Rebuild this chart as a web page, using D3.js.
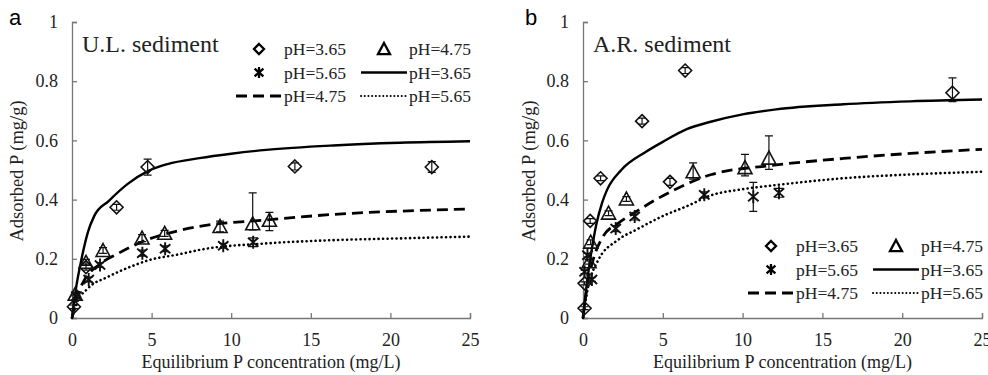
<!DOCTYPE html>
<html>
<head>
<meta charset="utf-8">
<script src="https://cdn.jsdelivr.net/npm/d3@7"></script>
<style>
  body { margin: 0; background: #fff; }
</style>
</head>
<body>
<svg id="chart" width="988" height="375"></svg>
<script>
// ---- data ----
var xTicks = [0, 5, 10, 15, 20, 25];
var yTicks = [0, 0.2, 0.4, 0.6, 0.8, 1];
var legendLabels = ["pH=3.65", "pH=4.75", "pH=5.65"];

// panel a : U.L. sediment
var aDiamondX = [0.12, 0.88, 2.8, 4.75, 14.0, 22.6];
var aDiamondY = [0.038, 0.172, 0.374, 0.51, 0.512, 0.51];
var aDiamondUp = [0.006, 0.01, 0.01, 0.027, 0.012, 0.018];
var aDiamondDn = [0.006, 0.01, 0.01, 0.027, 0.012, 0.018];

var aTriX = [0.2, 0.88, 1.95, 4.4, 5.82, 9.3, 11.35, 12.4];
var aTriY = [0.08, 0.188, 0.228, 0.27, 0.286, 0.309, 0.318, 0.33];
var aTriUp = [0.005, 0.01, 0.01, 0.012, 0.01, 0.018, 0.105, 0.027];
var aTriDn = [0.005, 0.01, 0.01, 0.012, 0.01, 0.018, 0.02, 0.035];

var aStarX = [0.28, 1.05, 1.76, 4.42, 5.85, 9.5, 11.38];
var aStarY = [0.074, 0.13, 0.179, 0.219, 0.234, 0.244, 0.256];
var aStarUp = [0.005, 0.008, 0.008, 0.01, 0.01, 0.008, 0.015];
var aStarDn = [0.005, 0.008, 0.008, 0.01, 0.01, 0.008, 0.015];

var aFit365X = [0, 0.25, 0.6, 1.0, 1.4, 2.3, 3.5, 4.8, 6.0, 8.0, 10.0, 12.2, 16.4, 20.6, 25];
var aFit365Y = [0, 0.1, 0.2, 0.29, 0.345, 0.395, 0.453, 0.497, 0.52, 0.54, 0.555, 0.568, 0.583, 0.592, 0.597];
var aFit475X = [0, 0.3, 0.8, 1.7, 2.9, 4.6, 6.7, 8.3, 12.2, 16.4, 20.6, 25];
var aFit475Y = [0, 0.07, 0.13, 0.18, 0.218, 0.262, 0.295, 0.312, 0.331, 0.35, 0.361, 0.368];
var aFit565X = [0, 0.3, 1.0, 2.3, 3.9, 4.8, 6.7, 8.2, 12.2, 16.4, 20.6, 25];
var aFit565Y = [0, 0.05, 0.1, 0.14, 0.178, 0.195, 0.215, 0.232, 0.252, 0.263, 0.269, 0.275];

// panel b : A.R. sediment
var bDiamondX = [0.1, 0.1, 0.45, 1.1, 3.7, 5.45, 6.4, 23.15];
var bDiamondY = [0.033, 0.117, 0.328, 0.472, 0.665, 0.46, 0.836, 0.761];
var bDiamondUp = [0.005, 0.005, 0.008, 0.008, 0.01, 0.012, 0.01, 0.05];
var bDiamondDn = [0.005, 0.005, 0.008, 0.008, 0.01, 0.012, 0.01, 0.03];

var bTriX = [0.38, 0.48, 1.6, 2.72, 6.9, 10.15, 11.65];
var bTriY = [0.19, 0.256, 0.354, 0.402, 0.494, 0.508, 0.54];
var bTriUp = [0.008, 0.008, 0.008, 0.008, 0.03, 0.045, 0.075];
var bTriDn = [0.008, 0.008, 0.008, 0.008, 0.025, 0.028, 0.038];

var bStarX = [0.1, 0.28, 0.56, 2.05, 3.24, 7.6, 10.67, 12.28];
var bStarY = [0.156, 0.212, 0.13, 0.302, 0.343, 0.416, 0.41, 0.423];
var bStarUp = [0.006, 0.006, 0.006, 0.01, 0.012, 0.01, 0.048, 0.015];
var bStarDn = [0.006, 0.006, 0.006, 0.01, 0.012, 0.01, 0.05, 0.015];

var bFit365X = [0, 0.25, 0.5, 0.85, 1.2, 1.5, 2.4, 3.9, 5.0, 6.5, 8.0, 10.0, 12.1, 16.3, 20.5, 25];
var bFit365Y = [0, 0.12, 0.215, 0.32, 0.39, 0.432, 0.5, 0.56, 0.595, 0.638, 0.663, 0.688, 0.705, 0.722, 0.732, 0.738];
var bFit475X = [0, 0.3, 0.6, 1.25, 2.2, 3.2, 4.7, 6.0, 8.0, 12.1, 16.3, 20.5, 25];
var bFit475Y = [0, 0.12, 0.19, 0.275, 0.32, 0.355, 0.404, 0.44, 0.484, 0.517, 0.539, 0.556, 0.57];
var bFit565X = [0, 0.3, 0.9, 2.2, 3.4, 4.9, 6.6, 8.0, 10.0, 12.1, 16.3, 20.5, 25];
var bFit565Y = [0, 0.1, 0.19, 0.264, 0.3, 0.342, 0.38, 0.414, 0.435, 0.449, 0.472, 0.485, 0.494];

var SERIF = "'Liberation Serif', 'Times New Roman', serif";
var SANS = "'Liberation Sans', Arial, sans-serif";

var svg = d3.select("#chart");

function zip(xs, ys, up, dn) {
  return xs.map(function(x, i) {
    return { x: x, y: ys[i], up: up ? up[i] : 0, dn: dn ? dn[i] : 0 };
  });
}

// serif text helper
function label(sel, size) {
  return sel.attr("font-family", SERIF)
    .style("font-family", SERIF)
    .style("font-size", size + "px")
    .attr("fill", "#222");
}

// marker shapes, centred on 0,0
function diamondPath(s) {
  return "M0," + (-s) + "L" + s + ",0L0," + s + "L" + (-s) + ",0Z";
}
function trianglePath(s) {
  return "M0," + (-s) + "L" + s + "," + (s * 0.85) + "L" + (-s) + "," + (s * 0.85) + "Z";
}
function starPath(s) {
  var dx = s * 0.8, dy = s * 0.7;
  return "M0," + (-s) + "L0," + s +
    "M" + (-dx) + "," + (-dy) + "L" + dx + "," + dy +
    "M" + (-dx) + "," + dy + "L" + dx + "," + (-dy);
}

var lineStyles = [
  { dash: null, width: 2.4, cap: "butt" },
  { dash: "11,6", width: 2.8, cap: "butt" },
  { dash: "0.1,4.4", width: 2.6, cap: "round" }
];

function styleAxis(sel) {
  sel.attr("font-family", SERIF).attr("font-size", 18);
  sel.select(".domain").attr("stroke", "#777").attr("stroke-width", 1.3);
  sel.selectAll(".tick line").attr("stroke", "#777").attr("stroke-width", 1.3);
  label(sel.selectAll(".tick text"), 18);
}

function drawPanel(p) {
  var x = d3.scaleLinear().domain([0, 25]).range([p.left, p.right]);
  var y = d3.scaleLinear().domain([0, 1]).range([318, 22]);
  var g = svg.append("g");

  // axes, ticks pointing inwards
  g.append("g")
    .attr("transform", "translate(0,318)")
    .call(d3.axisBottom(x).tickValues(xTicks).tickSize(-5).tickPadding(15).tickFormat(d3.format("d")))
    .call(styleAxis);
  g.append("g")
    .attr("transform", "translate(" + p.left + ",0)")
    .call(d3.axisLeft(y).tickValues(yTicks).tickSize(-5).tickPadding(14).tickFormat(function(d) { return d === 0 || d === 1 ? d : d.toFixed(1); }))
    .call(styleAxis);

  // axis titles
  label(g.append("text"), 18)
    .attr("x", (p.left + p.right) / 2)
    .attr("y", 368)
    .attr("text-anchor", "middle")
    .text("Equilibrium P concentration (mg/L)");
  label(g.append("text"), 18.5)
    .attr("transform", "translate(" + p.yLabelX + ",171) rotate(-90)")
    .attr("text-anchor", "middle")
    .text("Adsorbed P (mg/g)");

  // panel letter and title
  g.append("text")
    .attr("x", p.letterX)
    .attr("y", 25)
    .attr("font-family", SANS)
    .style("font-family", SANS)
    .style("font-size", "22px")
    .attr("fill", "#000")
    .text(p.letter);
  label(g.append("text"), 24)
    .attr("x", p.left + 10)
    .attr("y", 52)
    .text(p.title);

  // fitted curves
  var line = d3.line()
    .x(function(d) { return x(d.x); })
    .y(function(d) { return y(d.y); })
    .curve(d3.curveMonotoneX);
  p.fits.forEach(function(f, i) {
    g.append("path")
      .datum(zip(f[0], f[1]))
      .attr("d", line)
      .attr("fill", "none")
      .attr("stroke", "#000")
      .attr("stroke-width", lineStyles[i].width)
      .attr("stroke-linecap", lineStyles[i].cap)
      .attr("stroke-dasharray", lineStyles[i].dash);
  });

  // observed points with error bars
  p.points.forEach(function(s) {
    var pts = g.append("g").selectAll("g")
      .data(zip(s.x, s.y, s.up, s.dn))
      .enter().append("g")
      .attr("transform", function(d) { return "translate(" + x(d.x) + "," + y(d.y) + ")"; });

    pts.append("path")
      .attr("d", function(d) {
        var t = y(d.y + d.up) - y(d.y), b = y(d.y - d.dn) - y(d.y);
        return "M0," + t + "L0," + b + "M-4," + t + "L4," + t + "M-4," + b + "L4," + b;
      })
      .attr("stroke", "#111")
      .attr("stroke-width", 1.2);

    pts.append("path")
      .attr("d", s.shape(s.size))
      .attr("fill", "none")
      .attr("stroke", "#111")
      .attr("stroke-width", s.stroke);
  });

  // legend
  var lg = g.append("g").attr("transform", "translate(" + p.legendX + "," + p.legendY + ")");
  var rowH = 23.5;
  var col1 = 0, col2 = 125;
  var entries = [
    { col: col1, row: 0, marker: diamondPath(5), label: legendLabels[0] },
    { col: col2, row: 0, marker: trianglePath(6), label: legendLabels[1] },
    { col: col1, row: 1, marker: starPath(5.5), label: legendLabels[2] },
    { col: col2, row: 1, line: 0, label: legendLabels[0] },
    { col: col1, row: 2, line: 1, label: legendLabels[1] },
    { col: col2, row: 2, line: 2, label: legendLabels[2] }
  ];
  entries.forEach(function(e) {
    var cy = e.row * rowH;
    if (e.marker) {
      lg.append("path")
        .attr("transform", "translate(" + (e.col - 25) + "," + (cy - 3) + ")")
        .attr("d", e.marker)
        .attr("fill", "none")
        .attr("stroke", "#000")
        .attr("stroke-width", 2.3);
    } else {
      var st = lineStyles[e.line];
      lg.append("line")
        .attr("x1", e.col - 48).attr("x2", e.col - 2)
        .attr("y1", cy - 3).attr("y2", cy - 3)
        .attr("stroke", "#000")
        .attr("stroke-width", e.line === 2 ? 2 : st.width)
        .attr("stroke-linecap", st.cap)
        .attr("stroke-dasharray", e.line === 2 ? "0.1,3.6" : st.dash);
    }
    label(lg.append("text"), 17.5)
      .attr("x", e.col)
      .attr("y", cy + 3)
      .text(e.label);
  });
}

drawPanel({
  left: 72, right: 470, yLabelX: 23, letter: "a", letterX: 9,
  title: "U.L. sediment", legendX: 284, legendY: 52,
  fits: [[aFit365X, aFit365Y], [aFit475X, aFit475Y], [aFit565X, aFit565Y]],
  points: [
    { x: aDiamondX, y: aDiamondY, up: aDiamondUp, dn: aDiamondDn, shape: diamondPath, size: 6.5, stroke: 1.6 },
    { x: aTriX, y: aTriY, up: aTriUp, dn: aTriDn, shape: trianglePath, size: 7, stroke: 1.6 },
    { x: aStarX, y: aStarY, up: aStarUp, dn: aStarDn, shape: starPath, size: 6.5, stroke: 1.9 }
  ]
});

drawPanel({
  left: 583, right: 982, yLabelX: 535, letter: "b", letterX: 525,
  title: "A.R. sediment", legendX: 796, legendY: 249,
  fits: [[bFit365X, bFit365Y], [bFit475X, bFit475Y], [bFit565X, bFit565Y]],
  points: [
    { x: bDiamondX, y: bDiamondY, up: bDiamondUp, dn: bDiamondDn, shape: diamondPath, size: 6.5, stroke: 1.6 },
    { x: bTriX, y: bTriY, up: bTriUp, dn: bTriDn, shape: trianglePath, size: 7, stroke: 1.6 },
    { x: bStarX, y: bStarY, up: bStarUp, dn: bStarDn, shape: starPath, size: 6.5, stroke: 1.9 }
  ]
});
</script>
</body>
</html>
